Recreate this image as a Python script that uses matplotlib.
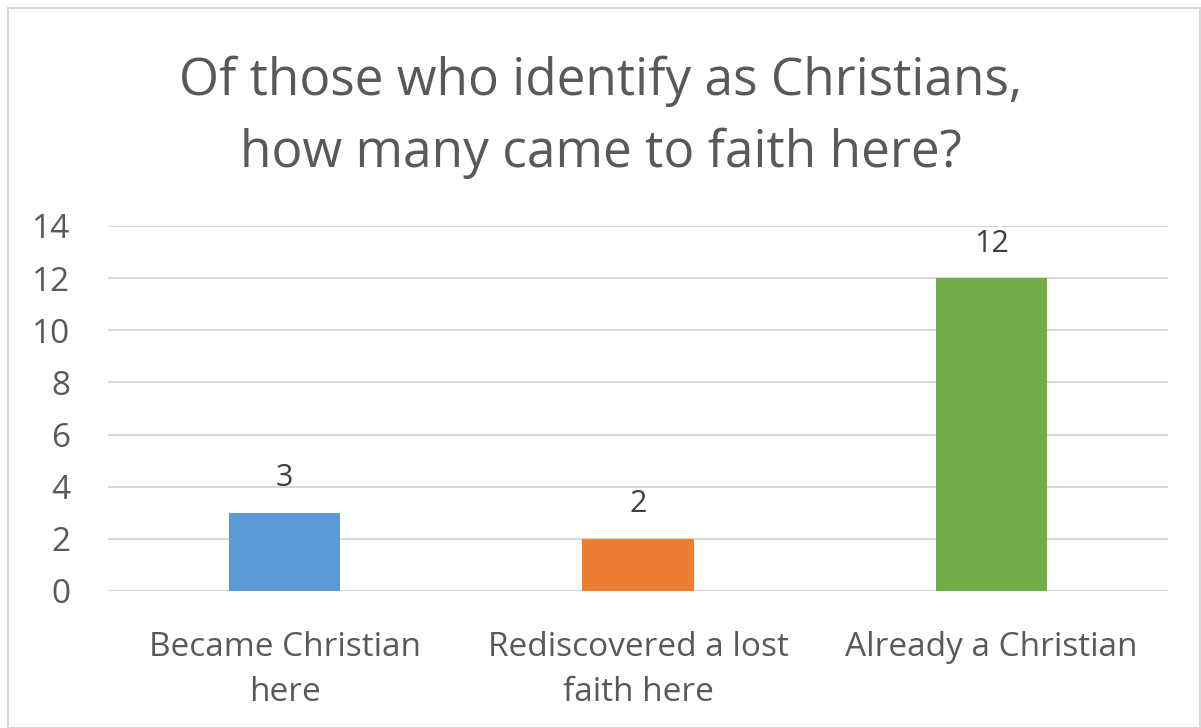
import matplotlib
matplotlib.use("Agg")
import matplotlib.pyplot as plt
from matplotlib.patches import Rectangle

categories = ["Became Christian\nhere", "Rediscovered a lost\nfaith here", "Already a Christian"]
values = [3, 2, 12]
colors = ["#5b9bd5", "#ed7d31", "#70ad47"]
yticks = [0, 2, 4, 6, 8, 10, 12, 14]
title = "Of those who identify as Christians,\nhow many came to faith here?"

plt.rcParams['font.family'] = ['Open Sans', 'DejaVu Sans']
text_color = "#595959"

fig = plt.figure(figsize=(12.01, 7.28), dpi=100)
fig.patches.append(Rectangle((8 / 1201, 0), 1 - 8 / 1201 - 1 / 1201, 1 - 8 / 728,
                             transform=fig.transFigure, fill=False,
                             edgecolor="#d9d9d9", linewidth=1.5))

ax = fig.add_axes([0.0899, 0.1882, 0.8826, 0.5014])
x = range(len(categories))
bars = ax.bar(x, values, width=0.315, color=colors, zorder=3)

for b, v in zip(bars, values):
    ax.text(b.get_x() + b.get_width() / 2, v + 0.75, str(v), ha="center", va="bottom",
            fontsize=22, color="#404040")

ax.set_xlim(-0.5, 2.5)
ax.set_ylim(0, 14)
ax.set_yticks(yticks)
ax.yaxis.grid(True, color="#d9d9d9", linewidth=1.5, zorder=0)
ax.set_xticks(list(x))
ax.set_xticklabels(categories, fontsize=24, color=text_color, linespacing=1.45)
ax.tick_params(axis="y", labelsize=24, labelcolor=text_color, length=0, pad=27)
ax.tick_params(axis="x", length=0, pad=29)
for s in ax.spines.values():
    s.set_visible(False)

fig.text(0.5, 0.839, title, ha="center", va="center", fontsize=37, color=text_color,
         linespacing=1.5)

fig.savefig("out.png", dpi=100)
